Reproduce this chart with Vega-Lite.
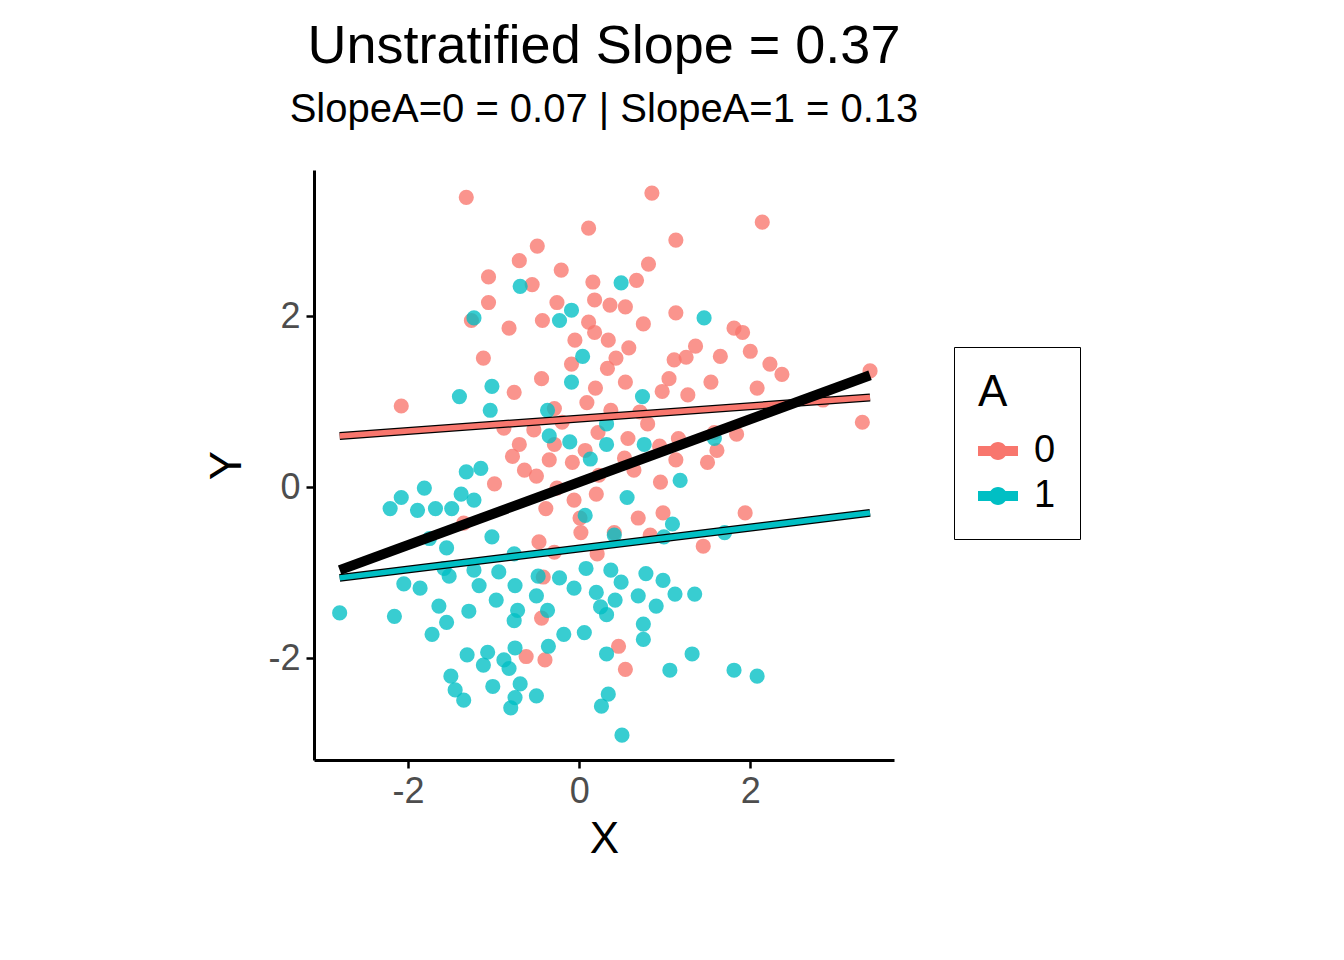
{
  "$schema": "https://vega.github.io/schema/vega-lite/v6.json",
  "width": 580,
  "height": 590,
  "padding": {"left": 205, "top": 20, "right": 10, "bottom": 10},
  "background": "white",
  "title": {
    "text": "Unstratified Slope = 0.37",
    "subtitle": "SlopeA=0 = 0.07 | SlopeA=1 = 0.13",
    "anchor": "middle",
    "frame": "group",
    "font": "Liberation Sans",
    "fontSize": 54,
    "fontWeight": "normal",
    "subtitleFont": "Liberation Sans",
    "subtitleFontSize": 40,
    "subtitlePadding": 16,
    "offset": 40,
    "color": "black",
    "subtitleColor": "black"
  },
  "datasets": {
    "pts": [
      {"x":-1.32,"y":3.39,"A":"0"},{"x":0.85,"y":3.44,"A":"0"},{"x":2.14,"y":3.10,"A":"0"},{"x":0.11,"y":3.03,"A":"0"},
      {"x":1.13,"y":2.89,"A":"0"},{"x":-0.49,"y":2.82,"A":"0"},{"x":-0.70,"y":2.65,"A":"0"},{"x":0.81,"y":2.61,"A":"0"},
      {"x":-0.21,"y":2.54,"A":"0"},{"x":-1.06,"y":2.46,"A":"0"},{"x":0.16,"y":2.40,"A":"0"},{"x":0.67,"y":2.42,"A":"0"},
      {"x":-0.55,"y":2.37,"A":"0"},{"x":-0.26,"y":2.16,"A":"0"},{"x":-1.06,"y":2.16,"A":"0"},{"x":0.18,"y":2.19,"A":"0"},
      {"x":0.36,"y":2.13,"A":"0"},{"x":0.54,"y":2.11,"A":"0"},{"x":1.13,"y":2.04,"A":"0"},{"x":-1.26,"y":1.95,"A":"0"},
      {"x":-0.43,"y":1.95,"A":"0"},{"x":0.11,"y":1.93,"A":"0"},{"x":0.75,"y":1.91,"A":"0"},{"x":-0.82,"y":1.86,"A":"0"},
      {"x":1.81,"y":1.86,"A":"0"},{"x":1.91,"y":1.81,"A":"0"},{"x":0.18,"y":1.81,"A":"0"},{"x":-0.05,"y":1.72,"A":"0"},
      {"x":0.34,"y":1.72,"A":"0"},{"x":0.58,"y":1.63,"A":"0"},{"x":1.36,"y":1.65,"A":"0"},{"x":2.0,"y":1.59,"A":"0"},
      {"x":-1.12,"y":1.51,"A":"0"},{"x":0.43,"y":1.51,"A":"0"},{"x":1.11,"y":1.49,"A":"0"},{"x":1.25,"y":1.52,"A":"0"},
      {"x":1.65,"y":1.53,"A":"0"},{"x":2.23,"y":1.44,"A":"0"},{"x":-0.09,"y":1.44,"A":"0"},{"x":0.33,"y":1.39,"A":"0"},
      {"x":2.37,"y":1.32,"A":"0"},{"x":3.40,"y":1.36,"A":"0"},{"x":-0.44,"y":1.27,"A":"0"},{"x":0.54,"y":1.23,"A":"0"},
      {"x":1.05,"y":1.27,"A":"0"},{"x":1.54,"y":1.23,"A":"0"},{"x":2.08,"y":1.16,"A":"0"},{"x":0.19,"y":1.16,"A":"0"},
      {"x":0.97,"y":1.12,"A":"0"},{"x":-0.76,"y":1.11,"A":"0"},{"x":0.09,"y":0.99,"A":"0"},{"x":1.27,"y":1.08,"A":"0"},
      {"x":2.85,"y":1.02,"A":"0"},{"x":-2.08,"y":0.95,"A":"0"},{"x":-0.29,"y":0.92,"A":"0"},{"x":0.37,"y":0.90,"A":"0"},
      {"x":0.71,"y":0.88,"A":"0"},{"x":-0.20,"y":0.76,"A":"0"},{"x":0.80,"y":0.74,"A":"0"},{"x":3.31,"y":0.76,"A":"0"},
      {"x":-0.88,"y":0.69,"A":"0"},{"x":-0.53,"y":0.67,"A":"0"},{"x":0.22,"y":0.64,"A":"0"},{"x":1.58,"y":0.64,"A":"0"},
      {"x":0.57,"y":0.57,"A":"0"},{"x":1.16,"y":0.57,"A":"0"},{"x":1.84,"y":0.62,"A":"0"},{"x":-0.70,"y":0.50,"A":"0"},
      {"x":-0.29,"y":0.50,"A":"0"},{"x":0.07,"y":0.43,"A":"0"},{"x":0.94,"y":0.48,"A":"0"},{"x":1.61,"y":0.43,"A":"0"},
      {"x":-0.78,"y":0.36,"A":"0"},{"x":-0.35,"y":0.32,"A":"0"},{"x":-0.08,"y":0.29,"A":"0"},{"x":0.53,"y":0.34,"A":"0"},
      {"x":1.13,"y":0.32,"A":"0"},{"x":1.50,"y":0.29,"A":"0"},{"x":-0.64,"y":0.20,"A":"0"},{"x":-0.50,"y":0.13,"A":"0"},
      {"x":0.23,"y":0.14,"A":"0"},{"x":0.64,"y":0.20,"A":"0"},{"x":-0.99,"y":0.04,"A":"0"},{"x":-0.26,"y":-0.01,"A":"0"},
      {"x":0.20,"y":-0.08,"A":"0"},{"x":0.95,"y":0.06,"A":"0"},{"x":-0.06,"y":-0.15,"A":"0"},{"x":-0.39,"y":-0.25,"A":"0"},
      {"x":0.98,"y":-0.30,"A":"0"},{"x":0.01,"y":-0.36,"A":"0"},{"x":0.69,"y":-0.36,"A":"0"},{"x":-1.35,"y":-0.42,"A":"0"},
      {"x":1.94,"y":-0.30,"A":"0"},{"x":0.41,"y":-0.53,"A":"0"},{"x":0.83,"y":-0.56,"A":"0"},{"x":0.02,"y":-0.53,"A":"0"},
      {"x":-0.47,"y":-0.64,"A":"0"},{"x":1.45,"y":-0.69,"A":"0"},{"x":-0.29,"y":-0.76,"A":"0"},{"x":0.21,"y":-0.78,"A":"0"},
      {"x":-0.42,"y":-1.05,"A":"0"},{"x":-0.44,"y":-1.53,"A":"0"},{"x":0.46,"y":-1.86,"A":"0"},{"x":-0.62,"y":-1.98,"A":"0"},
      {"x":-0.40,"y":-2.02,"A":"0"},{"x":0.54,"y":-2.13,"A":"0"},
      {"x":0.49,"y":2.39,"A":"1"},{"x":-0.69,"y":2.35,"A":"1"},{"x":-1.23,"y":1.98,"A":"1"},{"x":-0.09,"y":2.07,"A":"1"},
      {"x":-0.23,"y":1.95,"A":"1"},{"x":1.46,"y":1.98,"A":"1"},{"x":0.04,"y":1.53,"A":"1"},{"x":-0.09,"y":1.23,"A":"1"},
      {"x":-1.02,"y":1.18,"A":"1"},{"x":-1.40,"y":1.06,"A":"1"},{"x":0.74,"y":1.06,"A":"1"},{"x":-1.04,"y":0.90,"A":"1"},
      {"x":-0.37,"y":0.90,"A":"1"},{"x":0.32,"y":0.74,"A":"1"},{"x":-0.35,"y":0.60,"A":"1"},{"x":1.58,"y":0.57,"A":"1"},
      {"x":-0.11,"y":0.53,"A":"1"},{"x":0.76,"y":0.50,"A":"1"},{"x":0.32,"y":0.50,"A":"1"},{"x":0.13,"y":0.33,"A":"1"},
      {"x":-1.32,"y":0.18,"A":"1"},{"x":-1.15,"y":0.22,"A":"1"},{"x":1.18,"y":0.08,"A":"1"},{"x":-1.81,"y":-0.01,"A":"1"},
      {"x":-2.08,"y":-0.12,"A":"1"},{"x":-1.38,"y":-0.08,"A":"1"},{"x":-2.21,"y":-0.25,"A":"1"},{"x":-1.89,"y":-0.27,"A":"1"},
      {"x":-1.68,"y":-0.25,"A":"1"},{"x":-1.49,"y":-0.25,"A":"1"},{"x":-1.23,"y":-0.15,"A":"1"},{"x":0.56,"y":-0.12,"A":"1"},
      {"x":0.07,"y":-0.33,"A":"1"},{"x":1.09,"y":-0.43,"A":"1"},{"x":-1.02,"y":-0.58,"A":"1"},{"x":0.41,"y":-0.56,"A":"1"},
      {"x":-1.75,"y":-0.60,"A":"1"},{"x":-1.55,"y":-0.71,"A":"1"},{"x":1.70,"y":-0.53,"A":"1"},{"x":0.99,"y":-0.58,"A":"1"},
      {"x":-2.80,"y":-1.47,"A":"1"},{"x":-2.16,"y":-1.51,"A":"1"},{"x":-2.05,"y":-1.13,"A":"1"},{"x":-1.86,"y":-1.18,"A":"1"},
      {"x":-1.58,"y":-0.95,"A":"1"},{"x":-1.23,"y":-0.97,"A":"1"},{"x":-0.94,"y":-0.99,"A":"1"},{"x":-1.17,"y":-1.15,"A":"1"},
      {"x":-0.75,"y":-1.15,"A":"1"},{"x":-0.48,"y":-1.04,"A":"1"},{"x":-0.23,"y":-1.06,"A":"1"},{"x":0.08,"y":-0.95,"A":"1"},
      {"x":0.37,"y":-0.97,"A":"1"},{"x":0.49,"y":-1.11,"A":"1"},{"x":0.78,"y":-1.01,"A":"1"},{"x":0.98,"y":-1.09,"A":"1"},
      {"x":-0.06,"y":-1.18,"A":"1"},{"x":0.20,"y":-1.23,"A":"1"},{"x":-0.97,"y":-1.32,"A":"1"},{"x":-0.50,"y":-1.27,"A":"1"},
      {"x":1.12,"y":-1.25,"A":"1"},{"x":1.35,"y":-1.25,"A":"1"},{"x":0.69,"y":-1.27,"A":"1"},{"x":0.42,"y":-1.32,"A":"1"},
      {"x":0.25,"y":-1.40,"A":"1"},{"x":0.90,"y":-1.39,"A":"1"},{"x":-1.64,"y":-1.39,"A":"1"},{"x":-1.29,"y":-1.45,"A":"1"},
      {"x":-0.72,"y":-1.44,"A":"1"},{"x":-0.37,"y":-1.44,"A":"1"},{"x":0.32,"y":-1.49,"A":"1"},{"x":-1.55,"y":-1.58,"A":"1"},
      {"x":-0.76,"y":-1.56,"A":"1"},{"x":0.75,"y":-1.60,"A":"1"},{"x":-1.72,"y":-1.72,"A":"1"},{"x":-0.18,"y":-1.72,"A":"1"},
      {"x":0.06,"y":-1.70,"A":"1"},{"x":0.75,"y":-1.78,"A":"1"},{"x":-0.36,"y":-1.86,"A":"1"},{"x":-0.75,"y":-1.88,"A":"1"},
      {"x":-1.31,"y":-1.96,"A":"1"},{"x":-1.07,"y":-1.93,"A":"1"},{"x":-0.88,"y":-2.02,"A":"1"},{"x":0.32,"y":-1.95,"A":"1"},
      {"x":1.32,"y":-1.95,"A":"1"},{"x":-1.12,"y":-2.08,"A":"1"},{"x":1.06,"y":-2.14,"A":"1"},{"x":1.81,"y":-2.14,"A":"1"},
      {"x":2.08,"y":-2.21,"A":"1"},{"x":-1.50,"y":-2.21,"A":"1"},{"x":-0.82,"y":-2.12,"A":"1"},{"x":-0.69,"y":-2.30,"A":"1"},
      {"x":-1.01,"y":-2.33,"A":"1"},{"x":-1.45,"y":-2.37,"A":"1"},{"x":-0.75,"y":-2.46,"A":"1"},{"x":-0.50,"y":-2.44,"A":"1"},
      {"x":0.34,"y":-2.42,"A":"1"},{"x":-1.35,"y":-2.49,"A":"1"},{"x":0.26,"y":-2.56,"A":"1"},{"x":-0.80,"y":-2.58,"A":"1"},
      {"x":0.50,"y":-2.90,"A":"1"},{"x":-0.76,"y":-0.78,"A":"1"},{"x":-1.52,"y":-1.04,"A":"1"}
    ],
    "fits": [
      {"x":-2.8,"y":0.6,"A":"0"},{"x":3.4,"y":1.05,"A":"0"},
      {"x":-2.8,"y":-1.06,"A":"1"},{"x":3.4,"y":-0.3,"A":"1"}
    ],
    "overall": [
      {"x":-2.8,"y":-0.97},{"x":3.4,"y":1.31}
    ]
  },
  "layer": [
    {
      "data": {"name": "pts"},
      "mark": {"type": "circle", "size": 230, "opacity": 0.78},
      "encoding": {
        "x": {"field": "x", "type": "quantitative", "title": "X", "scale": {"domain": [-3.1, 3.68], "nice": false, "zero": false}, "axis": {"values": [-2, 0, 2], "labelExpr": "datum.value < 0 ? '-' + abs(datum.value) : '' + datum.value"}},
        "y": {"field": "y", "type": "quantitative", "title": "Y", "scale": {"domain": [-3.19, 3.71], "nice": false, "zero": false}, "axis": {"values": [-2, 0, 2], "labelExpr": "datum.value < 0 ? '-' + abs(datum.value) : '' + datum.value"}},
        "color": {
          "field": "A", "type": "nominal", "title": "A",
          "scale": {"domain": ["0", "1"], "range": ["#F8766D", "#00BFC4"]},
          "legend": {
            "orient": "none",
            "legendX": 640,
            "legendY": 177,
            "symbolType": "M -1 -0.25 H 1 V 0.25 H -1 Z M 0.45 0 A 0.45 0.45 0 1 1 -0.45 0 A 0.45 0.45 0 1 1 0.45 0 Z",
            "symbolSize": 1600, "symbolOpacity": 1, "symbolStrokeWidth": 0
          }
        }
      }
    },
    {
      "data": {"name": "fits"},
      "mark": {"type": "line", "color": "black", "strokeWidth": 8},
      "encoding": {"x": {"field": "x", "type": "quantitative"}, "y": {"field": "y", "type": "quantitative"}, "detail": {"field": "A"}}
    },
    {
      "data": {"name": "fits"},
      "mark": {"type": "line", "strokeWidth": 5.5},
      "encoding": {"x": {"field": "x", "type": "quantitative"}, "y": {"field": "y", "type": "quantitative"}, "color": {"field": "A", "type": "nominal"}}
    },
    {
      "data": {"name": "overall"},
      "mark": {"type": "line", "color": "black", "strokeWidth": 10},
      "encoding": {"x": {"field": "x", "type": "quantitative"}, "y": {"field": "y", "type": "quantitative"}}
    }
  ],
  "config": {
    "view": {"stroke": null},
    "font": "Liberation Sans",
    "axis": {
      "grid": false,
      "domainColor": "black",
      "domainWidth": 3,
      "tickColor": "black",
      "tickWidth": 2.5,
      "tickSize": 8,
      "labelFontSize": 36,
      "labelColor": "#4d4d4d",
      "labelPadding": 6,
      "titleFontSize": 44,
      "titleFontWeight": "normal",
      "titleColor": "black"
    },
    "axisY": {"titlePadding": 18, "titleAngle": -90},
    "axisX": {"titlePadding": 8},
    "legend": {
      "strokeColor": "black",
      "padding": 24,
      "titleFontSize": 44,
      "titleFontWeight": "normal",
      "titleColor": "black",
      "titlePadding": 16,
      "labelFontSize": 38,
      "labelColor": "black",
      "rowPadding": 6,
      "labelOffset": 16
    }
  }
}
